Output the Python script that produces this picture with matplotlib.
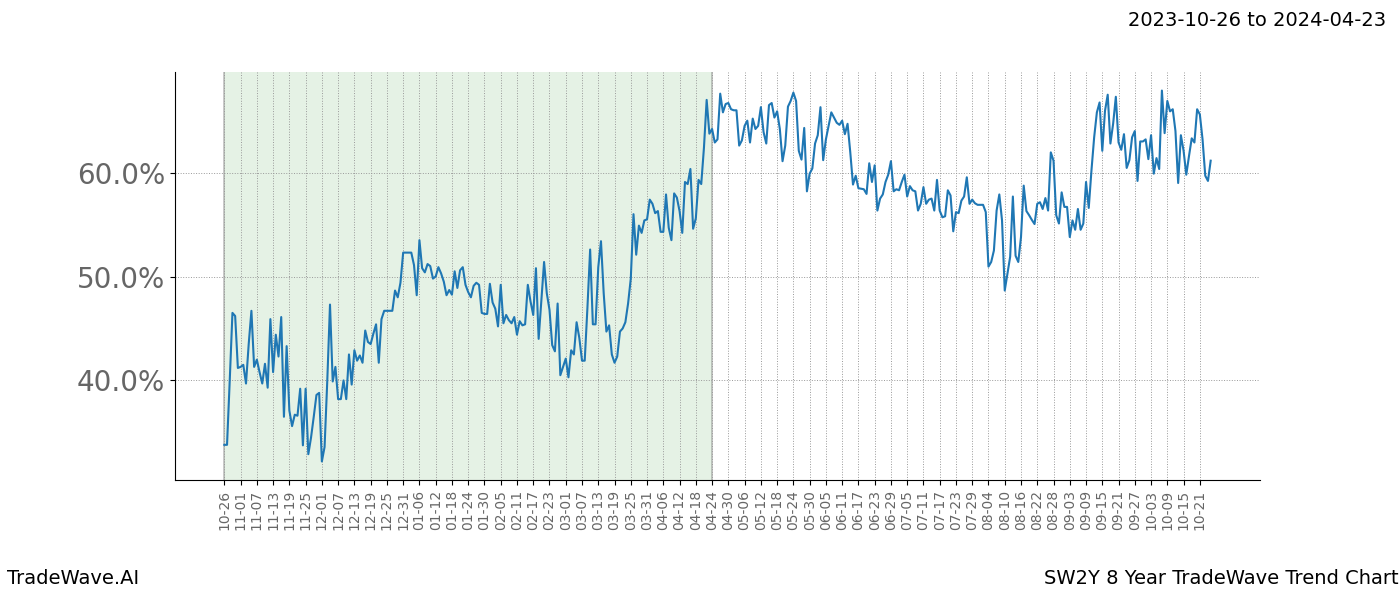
import matplotlib
matplotlib.use("Agg")
import matplotlib.pyplot as plt
import numpy as np
import pandas as pd

start_date = "2023-10-26"
train_end = "2024-04-23"

# daily trend values (%)
vals_oct_dec = [33.8, 33.8, 40.0, 46.5, 46.2, 41.2, 41.3, 41.5, 39.7, 43.5,
                46.7, 41.3, 42.0, 40.8, 39.7, 41.6, 39.3, 45.9, 40.8, 44.4,
                42.3, 46.1, 36.5, 43.3, 37.1, 35.6, 36.7, 36.6, 39.2, 33.75,
                39.2, 32.9, 34.5, 36.5, 38.6, 38.8, 32.2, 33.6, 40.0, 47.3,
                39.9, 41.3, 38.2, 38.2, 40.0, 38.2, 42.5, 39.6, 42.9, 41.9,
                42.4, 41.7, 44.8, 43.7, 43.5, 44.5, 45.4, 41.7, 45.9, 46.7]
vals_dec_feb = [46.7, 46.7, 46.7, 48.65, 48.0, 49.4, 52.3, 52.3, 52.3, 52.3,
                51.1, 48.2, 53.5, 50.8, 50.4, 51.2, 51.0, 49.8, 50.0, 50.9,
                50.3, 49.5, 48.2, 48.7, 48.25, 50.5, 48.9, 50.6, 50.9, 49.2,
                48.5, 48.0, 49.1, 49.4, 49.2, 46.5, 46.4, 46.4, 49.3, 47.5,
                46.9, 45.2, 49.2, 45.5, 46.3, 45.8, 45.5, 46.1, 44.4, 45.7,
                45.3, 45.4, 49.2, 47.6, 46.3, 50.8, 44.0, 47.7, 51.4]
vals_feb_apr = [48.4, 46.8, 43.4, 42.8, 47.4, 40.5, 41.3, 42.1, 40.3, 42.9,
                42.5, 45.6, 44.1, 41.9, 41.9, 47.0, 52.6, 45.4, 45.4, 50.9,
                53.4, 48.4, 44.7, 45.3, 42.5, 41.7, 42.3, 44.7, 45.0, 45.6,
                47.4, 49.8, 56.0, 52.1, 54.9, 54.2, 55.4, 55.5, 57.4, 57.0,
                56.1, 56.3, 54.3, 54.3, 57.9, 54.7, 53.5, 58.0, 57.6, 56.3,
                54.2, 59.1, 58.9, 60.35, 54.6, 55.6, 59.3, 58.9, 62.4, 67.0,
                63.75, 64.2, 62.9]
vals_apr_jun = [63.2, 67.6, 65.8, 66.6, 66.7, 66.1, 66.0, 66.0, 62.6, 63.1,
                64.5, 65.0, 62.9, 65.2, 64.2, 64.5, 66.3, 63.9, 62.8, 66.5,
                66.7, 65.3, 65.9, 64.2, 61.1, 62.6, 66.35, 66.9, 67.7, 66.9,
                62.1, 61.25, 64.3, 58.2, 59.9, 60.4, 62.8, 63.6, 66.3, 61.2,
                63.2, 64.5, 65.8, 65.3, 64.8, 64.6, 65.0, 63.7, 64.7, 61.95,
                58.85, 59.7, 58.5, 58.45, 58.4, 57.95]
vals_jun_aug = [60.9, 59.1, 60.7, 56.35, 57.5, 57.9, 59.1, 59.8, 61.1, 58.2,
                58.4, 58.3, 59.1, 59.8, 57.7, 58.7, 58.3, 58.2, 56.35, 57.0,
                58.6, 57.0, 57.4, 57.5, 56.35, 59.3, 56.35, 55.7, 55.8, 58.3,
                57.8, 54.35, 56.2, 56.1, 57.3, 57.7, 59.55, 57.0, 57.4, 57.05,
                56.9, 56.9, 56.9, 56.2, 50.95, 51.4, 52.5, 56.35, 57.9, 55.4,
                48.65, 50.3, 51.9, 57.7, 52.0, 51.4, 53.8, 58.75, 56.3, 55.9]
vals_aug_oct = [55.45, 55.05, 57.0, 57.15, 56.5, 57.55, 56.35, 61.95, 61.15, 55.9,
                55.1, 58.1, 56.7, 56.7, 53.8, 55.4, 54.5, 56.5, 54.5, 55.1,
                59.1, 56.6, 60.2, 63.4, 65.8, 66.75, 62.1, 65.95, 67.5, 62.8,
                64.7, 67.3, 62.9, 62.2, 63.7, 60.45, 61.2, 63.4, 64.0, 59.2,
                63.0, 63.0, 63.2, 61.3, 63.6, 59.9, 61.4, 60.35, 67.9, 63.8,
                66.9, 65.9, 66.1, 64.0, 59.0, 63.6, 62.1, 59.8, 61.6, 63.3,
                62.9, 66.1, 65.6, 63.2, 59.7, 59.2, 61.15]

values = np.array(vals_oct_dec + vals_dec_feb + vals_feb_apr
                  + vals_apr_jun + vals_jun_aug + vals_aug_oct) / 100.0

# the series has no Feb 29
dates = pd.date_range(start_date, periods=len(values) + 1, freq="D")
dates = dates[~((dates.month == 2) & (dates.day == 29))][:len(values)]
x = np.arange(len(values))

fig, ax = plt.subplots(figsize=(14, 6), dpi=100)
fig.subplots_adjust(left=0.125, right=0.9, top=0.88, bottom=0.2)

span_end = int(np.searchsorted(dates, pd.Timestamp(train_end), side="right"))
ax.axvspan(0, span_end, facecolor="green", alpha=0.1, linewidth=0, zorder=0)
for xe in (0, span_end):
    ax.axvline(xe, color="gray", alpha=0.5, linewidth=1.2, zorder=0)

ax.plot(x, values, color="#1f77b4", linewidth=1.5, zorder=3)

tick_idx = x[::6]
ax.set_xticks(tick_idx)
ax.set_xticklabels([dates[i].strftime("%m-%d") for i in tick_idx],
                   rotation=90, fontsize=10, color="#666666")
ax.set_yticks([0.4, 0.5, 0.6])
ax.set_yticklabels(["40.0%", "50.0%", "60.0%"], fontsize=20, color="#666666")

ax.grid(True, linestyle=":", color="#999999", linewidth=0.7)
ax.spines["top"].set_visible(False)
ax.spines["right"].set_visible(False)

fig.text(0.99, 0.965, "2023-10-26 to 2024-04-23", ha="right", va="center",
         fontsize=14)
fig.text(0.005, 0.02, "TradeWave.AI", ha="left", va="bottom", fontsize=14)
fig.text(0.999, 0.02, "SW2Y 8 Year TradeWave Trend Chart", ha="right",
         va="bottom", fontsize=14)

fig.savefig("out.png", dpi=100)
